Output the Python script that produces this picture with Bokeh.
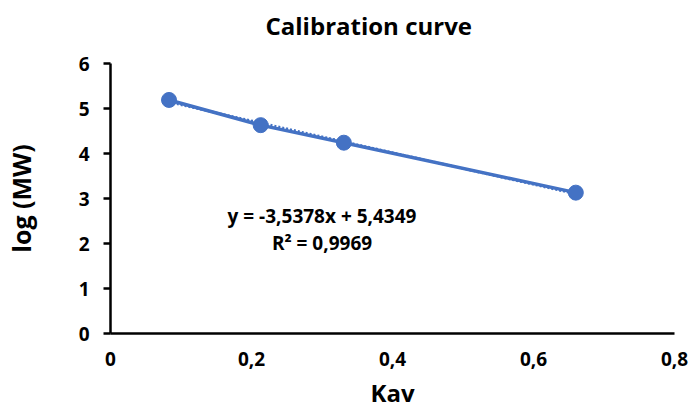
from bokeh.plotting import figure
from bokeh.models import Range1d, FixedTicker, LinearAxis, Label
from bokeh.embed import file_html
from bokeh.resources import INLINE

# ---- data ----
kav = [0.083, 0.213, 0.331, 0.660]
log_mw = [5.19, 4.63, 4.24, 3.13]

x_ticks = [0, 0.2, 0.4, 0.6, 0.8]
x_tick_labels = ["0", "0,2", "0,4", "0,6", "0,8"]
y_ticks = [0, 1, 2, 3, 4, 5, 6]
y_tick_labels = ["0", "1", "2", "3", "4", "5", "6"]

# trendline shown on the chart
slope = -3.5378
intercept = 5.4349
eq_text = "y = -3,5378x + 5,4349"
r2_text = "R\u00b2 = 0,9969"

title_text = "Calibration curve"
x_label = "Kav"
y_label = "log (MW)"

FONT = "Open Sans"
BLUE = "#4472C4"

p = figure(width=692, height=411, output_backend="svg", toolbar_location=None,
           x_range=Range1d(0, 0.8), y_range=Range1d(0, 6),
           min_border_left=108, min_border_right=18,
           min_border_top=63, min_border_bottom=78)

p.title.text = title_text
p.title.text_font = FONT
p.title.text_font_size = "24px"
p.title.text_font_style = "bold"
p.title.text_color = "black"
p.title.align = "left"
p.title.offset = 155
p.title.standoff = 4

# invisible spacer between the title and the plot area
spacer = LinearAxis(ticker=FixedTicker(ticks=[0.4]), major_tick_out=20,
                    major_tick_in=0, minor_tick_out=0, minor_tick_in=0,
                    axis_line_color=None, major_tick_line_color=None,
                    minor_tick_line_color=None, major_label_standoff=0,
                    major_label_overrides={0.4: ""},
                    major_label_text_font_size="1px",
                    major_label_text_color=None)
p.add_layout(spacer, "above")

p.outline_line_color = None
p.xgrid.visible = False
p.ygrid.visible = False
p.background_fill_color = "white"
p.border_fill_color = "white"

# axes
xa = p.below[0]
xa.ticker = FixedTicker(ticks=x_ticks)
xa.major_label_overrides = {t: l for t, l in zip(x_ticks, x_tick_labels)}
xa.major_tick_out = 0
xa.major_tick_in = 0
xa.minor_tick_out = 0
xa.minor_tick_in = 0
xa.axis_line_color = "black"
xa.axis_line_width = 2.5
xa.major_label_text_font = FONT
xa.major_label_text_font_size = "19px"
xa.major_label_text_font_style = "bold"
xa.major_label_text_color = "black"
xa.major_label_standoff = 18
xa.axis_label = x_label
xa.axis_label_text_font = FONT
xa.axis_label_text_font_size = "24px"
xa.axis_label_text_font_style = "bold"
xa.axis_label_text_color = "black"
xa.axis_label_standoff = 7

ya = p.left[0]
ya.ticker = FixedTicker(ticks=y_ticks)
ya.major_label_overrides = {t: l for t, l in zip(y_ticks, y_tick_labels)}
ya.major_tick_out = 7
ya.major_tick_in = 0
ya.minor_tick_out = 0
ya.minor_tick_in = 0
ya.major_tick_line_color = "black"
ya.major_tick_line_width = 2.5
ya.axis_line_color = "black"
ya.axis_line_width = 2.5
ya.major_label_text_font = FONT
ya.major_label_text_font_size = "19px"
ya.major_label_text_font_style = "bold"
ya.major_label_text_color = "black"
ya.major_label_standoff = 14
ya.axis_label = y_label
ya.axis_label_text_font = FONT
ya.axis_label_text_font_size = "25px"
ya.axis_label_text_font_style = "bold"
ya.axis_label_text_color = "black"
ya.axis_label_standoff = 38

# linear trendline (dotted), spanning the data range
tx = [min(kav), max(kav)]
ty = [slope * v + intercept for v in tx]
p.line(tx, ty, line_color=BLUE, line_width=2.5, line_dash="2 2")

# data series: line + markers
p.line(kav, log_mw, line_color=BLUE, line_width=3.5)
p.scatter(kav, log_mw, size=15, fill_color=BLUE, line_color=BLUE)

# trendline equation
for txt, yy in [(eq_text, 2.62), (r2_text, 2.02)]:
    p.add_layout(Label(x=0.30, y=yy, text=txt, text_align="center",
                       text_baseline="middle", text_font=FONT,
                       text_font_size="19px", text_font_style="bold",
                       text_color="black"))

open("out.html", "w").write(file_html(p, INLINE))
